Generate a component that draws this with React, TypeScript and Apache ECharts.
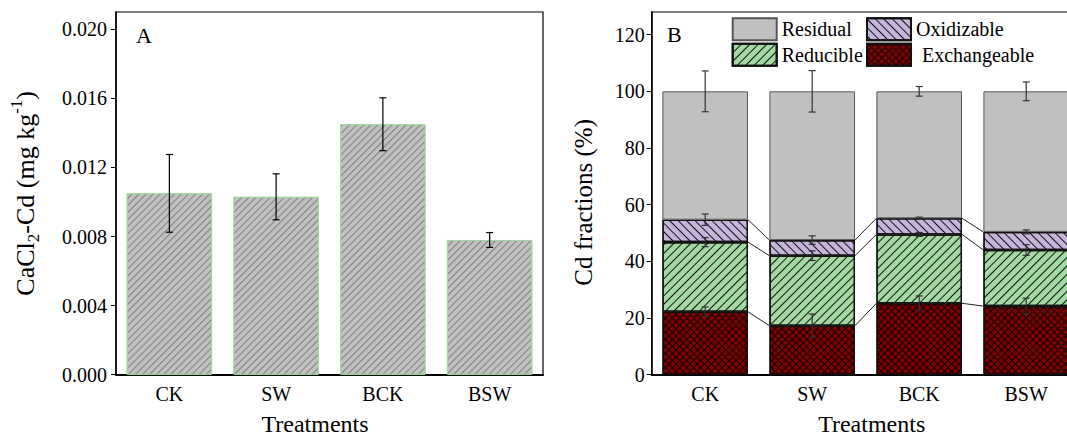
import React, { useEffect, useRef } from 'react';
import * as echarts from 'echarts';

// ---------- data ----------
const categories = ['CK', 'SW', 'BCK', 'BSW'];

// Panel A: CaCl2-extractable Cd (mg/kg)
const cacl2Cd = [0.0105, 0.0103, 0.0145, 0.0078];
const cacl2CdSd = [0.00225, 0.00133, 0.00153, 0.00043];
const yTicksA = [0, 0.004, 0.008, 0.012, 0.016, 0.02];

// Panel B: Cd fractions (%), stacked bottom -> top
const exchangeable = [22.2, 17.3, 25.2, 24.2];
const reducible = [24.6, 24.7, 24.3, 19.8];
const oxidizable = [7.9, 5.5, 5.7, 6.4];
const residual = [45.3, 52.5, 44.8, 49.6];
const exchangeableSd = [1.7, 4.1, 2.6, 2.8];
const reducibleSd = [1.6, 1.7, 0.7, 1.9];
const oxidizableSd = [2.0, 1.5, 0.4, 0.7];
const residualSd = [7.2, 7.3, 1.7, 3.3];
const yTicksB = [0, 20, 40, 60, 80, 100, 120];

const FONT = '"Liberation Serif", "Times New Roman", Times, serif';

function errorBarRender(capHalf: number, color: string, lineWidth: number) {
  return (params: any, api: any) => {
    const x = api.value(0);
    const lo = api.value(1);
    const hi = api.value(2);
    const pHi = api.coord([x, hi]);
    const pLo = api.coord([x, lo]);
    const style = { stroke: color, lineWidth };
    return {
      type: 'group',
      children: [
        { type: 'line', shape: { x1: pHi[0], y1: pHi[1], x2: pLo[0], y2: pLo[1] }, style },
        { type: 'line', shape: { x1: pHi[0] - capHalf, y1: pHi[1], x2: pHi[0] + capHalf, y2: pHi[1] }, style },
        { type: 'line', shape: { x1: pLo[0] - capHalf, y1: pLo[1], x2: pLo[0] + capHalf, y2: pLo[1] }, style },
      ],
    };
  };
}

export default function App() {
  const ref = useRef<HTMLDivElement>(null);

  useEffect(() => {
    if (!ref.current) return;
    const chart = echarts.init(ref.current, null, { renderer: 'svg' });

    const layers = [exchangeable, reducible, oxidizable, residual];
    const layerSd = [exchangeableSd, reducibleSd, oxidizableSd, residualSd];
    const cum: number[][] = [];
    layers.forEach((arr, l) => {
      cum.push(arr.map((v, i) => (l === 0 ? 0 : cum[l - 1][i]) + v));
    });

    const errA = cacl2Cd.map((v, i) => [i, v - cacl2CdSd[i], v + cacl2CdSd[i]]);
    const errB: number[][] = [];
    for (let l = 0; l < 4; l++) {
      for (let i = 0; i < categories.length; i++) {
        const top = l === 3 ? 100 : cum[l][i];
        errB.push([i, top - layerSd[l][i], top + layerSd[l][i]]);
      }
    }
    const connectors: number[][] = [];
    for (let l = 0; l < 3; l++) {
      for (let i = 0; i < categories.length - 1; i++) {
        connectors.push([i, cum[l][i], cum[l][i + 1]]);
      }
    }

    const hatchA = {
      symbol: 'rect', symbolSize: 1, color: 'rgba(90,90,90,0.65)',
      dashArrayX: [1, 0], dashArrayY: [1, 4], rotation: -Math.PI / 4,
    };
    const hatchRed = {
      symbol: 'rect', symbolSize: 1, color: '#111',
      dashArrayX: [1, 0], dashArrayY: [1, 5], rotation: -Math.PI / 4,
    };
    const hatchOx = {
      symbol: 'rect', symbolSize: 1, color: '#111',
      dashArrayX: [1, 0], dashArrayY: [1, 5], rotation: Math.PI / 4,
    };
    const crossExch = {
      symbol: 'rect', symbolSize: 1, color: 'rgba(0,0,0,0.85)',
      dashArrayX: [[1, 0], [1, 4], [1, 4], [1, 4], [1, 4]],
      dashArrayY: [1, 0], rotation: Math.PI / 4,
    };

    const axisCommonY = {
      axisLine: { show: true, lineStyle: { color: '#000', width: 1.5 } },
      axisTick: { show: true, inside: false, length: 5, lineStyle: { color: '#000', width: 1 } },
      splitLine: { show: false },
    };
    const axisCommonX = {
      type: 'category',
      data: categories,
      axisLine: { show: true, lineStyle: { color: '#000', width: 2.2 } },
      axisTick: { show: false },
      axisLabel: { fontSize: 20, fontFamily: FONT, color: '#000', margin: 9 },
      nameLocation: 'middle',
      nameGap: 37,
      name: 'Treatments',
    };

    const legendCommon = {
      padding: 0,
      icon: 'rect',
      itemWidth: 44,
      itemHeight: 22,
      itemGap: 0,
      selectedMode: false,
      orient: 'horizontal',
      textStyle: { fontSize: 20, fontFamily: FONT, color: '#000' },
    };

    const gridCommon = {
      top: 12, height: 362.7, show: true, borderColor: '#000', borderWidth: 1.2,
      backgroundColor: 'transparent', containLabel: false, outerBoundsMode: 'none',
    };

    chart.setOption({
      animation: false,
      backgroundColor: '#fff',
      textStyle: { fontFamily: FONT },
      grid: [
        { ...gridCommon, left: 116, width: 427 },
        { ...gridCommon, left: 651.7, width: 428 },
      ],
      xAxis: [
        { ...axisCommonX, gridIndex: 0, nameTextStyle: { fontSize: 24, fontFamily: FONT, color: '#000', padding: [0, 29, 0, 0] } },
        { ...axisCommonX, gridIndex: 1, nameTextStyle: { fontSize: 24, fontFamily: FONT, color: '#000', padding: [0, 0, 0, 12] } },
      ],
      yAxis: [
        {
          ...axisCommonY,
          type: 'value', gridIndex: 0, min: 0, max: 0.021,
          axisLabel: { customValues: yTicksA, fontSize: 20, fontFamily: FONT, color: '#000', margin: 9, formatter: (v: number) => v.toFixed(3) },
          axisTick: { ...axisCommonY.axisTick, customValues: yTicksA },
          name: '{n|CaCl}{s|2}{n|-Cd (mg kg}{p|-1}{n|)}',
          nameLocation: 'middle', nameRotate: 90, nameGap: 74,
          nameTextStyle: {
            fontSize: 26, fontFamily: FONT, color: '#000',
            rich: {
              n: { fontSize: 26, fontFamily: FONT, color: '#000', lineHeight: 34 },
              s: { fontSize: 17, fontFamily: FONT, color: '#000', lineHeight: 17, verticalAlign: 'bottom' },
              p: { fontSize: 17, fontFamily: FONT, color: '#000', lineHeight: 17, verticalAlign: 'top' },
            },
          },
        },
        {
          ...axisCommonY,
          type: 'value', gridIndex: 1, min: 0, max: 128,
          axisLabel: { customValues: yTicksB, fontSize: 20, fontFamily: FONT, color: '#000', margin: 7 },
          axisTick: { ...axisCommonY.axisTick, customValues: yTicksB },
          name: 'Cd fractions (%)',
          nameLocation: 'middle', nameRotate: 90, nameGap: 56,
          nameTextStyle: { fontSize: 25, fontFamily: FONT, color: '#000', padding: [0, 18, 0, 0] },
        },
      ],
      legend: [
        { ...legendCommon, data: ['Residual'], left: 731.7, top: 17.3 },
        { ...legendCommon, data: ['Oxidizable'], left: 866, top: 17.3 },
        { ...legendCommon, data: ['Reducible'], left: 731.7, top: 42.7 },
        { ...legendCommon, data: ['Exchangeable'], left: 866, top: 42.7, textStyle: { ...legendCommon.textStyle, padding: [0, 0, 0, 6] } },
      ],
      graphic: [
        { type: 'text', x: 136, y: 35, style: { text: 'A', fontSize: 22, fontFamily: FONT, fill: '#000', align: 'left', verticalAlign: 'middle', textAlign: 'left', textVerticalAlign: 'middle' } },
        { type: 'text', x: 667, y: 34, style: { text: 'B', fontSize: 22, fontFamily: FONT, fill: '#000', align: 'left', verticalAlign: 'middle', textAlign: 'left', textVerticalAlign: 'middle' } },
      ],
      series: [
        {
          name: 'CaCl2-Cd', type: 'bar', xAxisIndex: 0, yAxisIndex: 0,
          data: cacl2Cd, barWidth: '80%',
          itemStyle: { color: '#c0c0c0', borderColor: '#9fd89f', borderWidth: 1, decal: hatchA },
        },
        {
          name: 'errA', type: 'custom', xAxisIndex: 0, yAxisIndex: 0, z: 5,
          data: errA, encode: { x: 0, y: [1, 2] },
          renderItem: errorBarRender(3.5, '#000', 1.2),
        },
        {
          name: 'Exchangeable', type: 'bar', stack: 'frac', xAxisIndex: 1, yAxisIndex: 1,
          data: exchangeable, barWidth: '80%',
          itemStyle: { color: '#7f0000', borderColor: '#111', borderWidth: 1.3, decal: crossExch },
        },
        {
          name: 'Reducible', type: 'bar', stack: 'frac', xAxisIndex: 1, yAxisIndex: 1,
          data: reducible, barWidth: '80%',
          itemStyle: { color: '#a2daa2', borderColor: '#111', borderWidth: 1.3, decal: hatchRed },
        },
        {
          name: 'Oxidizable', type: 'bar', stack: 'frac', xAxisIndex: 1, yAxisIndex: 1,
          data: oxidizable, barWidth: '80%',
          itemStyle: { color: '#c5b4dc', borderColor: '#111', borderWidth: 1.3, decal: hatchOx },
        },
        {
          name: 'Residual', type: 'bar', stack: 'frac', xAxisIndex: 1, yAxisIndex: 1,
          data: residual, barWidth: '80%',
          itemStyle: { color: '#c0c0c0', borderColor: '#555', borderWidth: 1 },
        },
        {
          name: 'connectors', type: 'custom', xAxisIndex: 1, yAxisIndex: 1, z: 4,
          data: connectors, encode: { x: 0, y: [1, 2] },
          renderItem: (params: any, api: any) => {
            const i = api.value(0);
            const a = api.value(1);
            const b = api.value(2);
            const half = api.size([1, 0])[0] * 0.4;
            const p1 = api.coord([i, a]);
            const p2 = api.coord([i + 1, b]);
            return {
              type: 'line',
              shape: { x1: p1[0] + half, y1: p1[1], x2: p2[0] - half, y2: p2[1] },
              style: { stroke: '#222', lineWidth: 1 },
            };
          },
        },
        {
          name: 'errB', type: 'custom', xAxisIndex: 1, yAxisIndex: 1, z: 5,
          data: errB, encode: { x: 0, y: [1, 2] },
          renderItem: errorBarRender(3.5, '#333', 1.2),
        },
      ],
    });

    return () => chart.dispose();
  }, []);

  return (
    <div
      ref={ref}
      style={{ position: 'fixed', left: 0, top: 0, width: 1067, height: 438, background: '#fff' }}
    />
  );
}
